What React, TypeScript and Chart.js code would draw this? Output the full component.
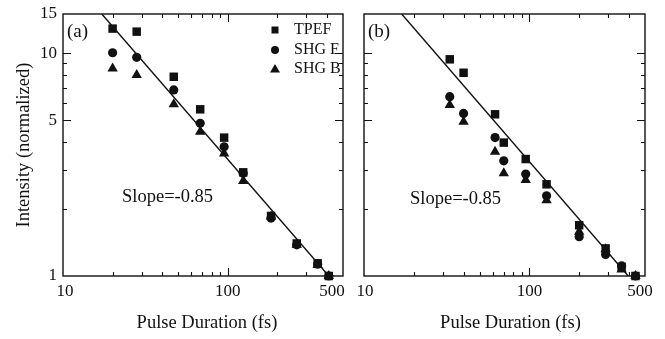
import React, { useEffect, useRef } from 'react';
import { Chart, registerables, LogarithmicScale } from 'chart.js';

Chart.register(...registerables);

const FONT = "'Liberation Serif', 'Times New Roman', serif";
const INK = '#111';

// ---------- data: panel (a) ----------
const durationsA = [20, 28, 47, 68, 95, 124, 183, 262, 351, 410];
const tpefA = [12.9, 12.5, 7.84, 5.6, 4.18, 2.92, 1.86, 1.4, 1.14, 1.0];
const shgFA = [10.05, 9.59, 6.84, 4.85, 3.8, 2.89, 1.82, 1.38, 1.13, 1.0];
const shgBA = [8.55, 7.98, 5.9, 4.44, 3.55, 2.67, 1.85, 1.38, 1.12, 1.0];
const fitXA = [17.2, 410];
const fitYA = [15, 1];

// ---------- data: panel (b) ----------
const durationsB = [33, 40, 62, 70, 95, 127, 200, 289, 361, 438];
const tpefB = [9.39, 8.17, 5.32, 3.97, 3.35, 2.58, 1.69, 1.33, 1.1, 1.0];
const shgFB = [6.38, 5.37, 4.18, 3.29, 2.87, 2.29, 1.5, 1.25, 1.11, 1.0];
const shgBB = [5.85, 4.93, 3.61, 2.89, 2.7, 2.19, 1.58, 1.32, 1.07, 1.0];
const fitXB = [16.9, 396];
const fitYB = [15, 1];

// ---------- axes ----------
const xTickLabels = [10, 100, 500];
const yTickLabels = [1, 5, 10, 15];
const xMajorTicks = [100];
const xMinorTicks = [20, 30, 40, 50, 60, 70, 80, 90, 200, 300, 400];
const yMajorTicks = [5, 10];
const yMinorTicks = [2, 3, 4, 6, 7, 8, 9];
const seriesNames = ['TPEF', 'SHG F', 'SHG B'];
const slopeText = 'Slope=-0.85';

// Log scale whose individual tick labels / title can be nudged sideways (as in the original figure).
class NudgedLogScale extends (LogarithmicScale as any) {
  static id = 'nudgedLog';
  static defaults = (LogarithmicScale as any).defaults;
  _computeLabelItems(chartArea: any) {
    const items = super._computeLabelItems(chartArea);
    const shifts: number[] = (this as any).$labelShifts || [];
    items.forEach((it: any, i: number) => {
      const dx = shifts[i] || 0;
      if (dx && it.options && it.options.translation) {
        it.options.translation = [it.options.translation[0] + dx, it.options.translation[1]];
      }
    });
    return items;
  }
  drawTitle() {
    const ctx = (this as any).ctx;
    const dx = (this as any).$titleShift || 0;
    ctx.save();
    ctx.translate(dx, 0);
    super.drawTitle();
    ctx.restore();
  }
}
Chart.register(NudgedLogScale as any);

const framePlugin = {
  id: 'frameTicks',
  beforeDatasetsDraw(chart: any) {
    const { ctx, chartArea: a, scales } = chart;
    const x = scales.x;
    const y = scales.y;
    ctx.save();
    ctx.strokeStyle = INK;
    ctx.lineWidth = 1.4;
    ctx.strokeRect(a.left, a.top, a.right - a.left, a.bottom - a.top);
    ctx.lineWidth = 1.1;
    ctx.beginPath();
    const xt = (v: number, len: number) => {
      const px = Math.round(x.getPixelForValue(v)) + 0.5;
      ctx.moveTo(px, a.bottom);
      ctx.lineTo(px, a.bottom - len);
      ctx.moveTo(px, a.top);
      ctx.lineTo(px, a.top + len);
    };
    const yt = (v: number, len: number) => {
      const py = Math.round(y.getPixelForValue(v)) + 0.5;
      ctx.moveTo(a.left, py);
      ctx.lineTo(a.left + len, py);
      ctx.moveTo(a.right, py);
      ctx.lineTo(a.right - len, py);
    };
    xMajorTicks.forEach((v) => xt(v, 8));
    xMinorTicks.forEach((v) => xt(v, 4));
    yMajorTicks.forEach((v) => yt(v, 8));
    yMinorTicks.forEach((v) => yt(v, 4));
    ctx.stroke();
    ctx.restore();
  },
};

const decorPlugin = {
  id: 'decor',
  afterDraw(chart: any, _args: any, opts: any) {
    const { ctx, chartArea: a } = chart;
    ctx.save();
    ctx.fillStyle = INK;
    ctx.textBaseline = 'middle';
    ctx.textAlign = 'left';
    ctx.font = `19px ${FONT}`;
    ctx.fillText(opts.panel, a.left + 4, 32);
    ctx.font = `18.5px ${FONT}`;
    ctx.fillText(slopeText, a.left + opts.slopeDx, opts.slopeY);
    if (opts.legend) {
      const mx = a.right - 68;
      const tx = a.right - 49;
      const rows = [30, 50, 69];
      ctx.font = `16px ${FONT}`;
      rows.forEach((ry, i) => {
        ctx.beginPath();
        if (i === 0) {
          ctx.rect(mx - 3.5, ry - 3.5, 7, 7);
        } else if (i === 1) {
          ctx.arc(mx, ry, 4, 0, Math.PI * 2);
        } else {
          ctx.moveTo(mx, ry - 5);
          ctx.lineTo(mx + 5, ry + 3.5);
          ctx.lineTo(mx - 5, ry + 3.5);
          ctx.closePath();
        }
        ctx.fill();
        ctx.fillText(seriesNames[i], tx, ry);
      });
    }
    ctx.restore();
  },
};

function pts(xs: number[], ys: number[]) {
  return xs.map((x, i) => ({ x, y: ys[i] }));
}

function buildConfig(p: any) {
  const marker = (label: string, ys: number[], style: string, r: number, order: number) => ({
    label,
    data: pts(p.durations, ys),
    pointStyle: style,
    pointRadius: r,
    pointHoverRadius: r,
    pointBackgroundColor: INK,
    pointBorderColor: INK,
    pointBorderWidth: 0,
    showLine: false,
    clip: false,
    order,
  });
  return {
    type: 'scatter',
    data: {
      datasets: [
        {
          label: 'Fit',
          data: pts(p.fitX, p.fitY),
          showLine: true,
          pointRadius: 0,
          borderColor: INK,
          borderWidth: 1.4,
          order: 3,
        },
        marker(seriesNames[0], p.tpef, 'rect', 6, 2),
        marker(seriesNames[1], p.shgF, 'circle', 4.6, 1),
        marker(seriesNames[2], p.shgB, 'triangle', 6, 0),
      ],
    },
    options: {
      responsive: false,
      animation: false,
      events: [],
      layout: { padding: p.padding },
      plugins: {
        legend: { display: false },
        tooltip: { enabled: false },
        decor: { panel: p.panel, slopeDx: p.slopeDx, slopeY: p.slopeY, legend: p.legend },
      },
      scales: {
        x: {
          type: 'nudgedLog',
          min: 10,
          max: 500,
          grid: { display: false, drawTicks: false },
          border: { display: false },
          afterBuildTicks: (s: any) => {
            s.ticks = xTickLabels.map((v) => ({ value: v }));
            s.$labelShifts = p.labelShifts;
            s.$titleShift = p.titleShift;
          },
          afterFit: (s: any) => {
            s.height = 63;
            s.paddingLeft = 0;
            s.paddingRight = 0;
          },
          ticks: {
            autoSkip: false,
            maxRotation: 0,
            padding: 5,
            color: INK,
            font: { family: FONT, size: 17 },
            callback: (v: any) => String(v),
          },
          title: {
            display: true,
            text: 'Pulse Duration (fs)',
            color: INK,
            font: { family: FONT, size: 18.5 },
            padding: { top: 0, bottom: 5 },
          },
        },
        y: {
          type: 'logarithmic',
          min: 1,
          max: 15,
          display: p.showY,
          grid: { display: false, drawTicks: false },
          border: { display: false },
          afterBuildTicks: (s: any) => {
            s.ticks = yTickLabels.map((v) => ({ value: v }));
          },
          afterFit: (s: any) => {
            if (p.showY) s.width = 63;
            s.paddingTop = 0;
            s.paddingBottom = 0;
          },
          ticks: {
            autoSkip: false,
            padding: 6,
            color: INK,
            font: { family: FONT, size: 17 },
            callback: (v: any) => String(v),
          },
          title: {
            display: true,
            text: 'Intensity (normalized)',
            color: INK,
            font: { family: FONT, size: 18.5 },
            padding: { top: 13, bottom: 0 },
          },
        },
      },
    },
    plugins: [framePlugin, decorPlugin],
  };
}

function Panel({ left, width, config }: { left: number; width: number; config: any }) {
  const ref = useRef<HTMLCanvasElement>(null);
  useEffect(() => {
    const chart = new Chart(ref.current as HTMLCanvasElement, config);
    return () => chart.destroy();
  }, []);
  return (
    <canvas
      ref={ref}
      width={width}
      height={339}
      style={{ position: 'absolute', left, top: 0, width, height: 339 }}
    />
  );
}

const configA = buildConfig({
  durations: durationsA,
  tpef: tpefA,
  shgF: shgFA,
  shgB: shgBA,
  fitX: fitXA,
  fitY: fitYA,
  panel: '(a)',
  slopeDx: 59,
  slopeY: 197,
  legend: true,
  showY: true,
  labelShifts: [2, 0, -11],
  titleShift: 4,
  padding: { top: 14, right: 19, left: 0, bottom: 0 },
});

const configB = buildConfig({
  durations: durationsB,
  tpef: tpefB,
  shgF: shgFB,
  shgB: shgBB,
  fitX: fitXB,
  fitY: fitYB,
  panel: '(b)',
  slopeDx: 46,
  slopeY: 199,
  legend: false,
  showY: false,
  labelShifts: [1, 0, -5],
  titleShift: 6,
  padding: { top: 14, right: 20, left: 14, bottom: 0 },
});

export default function App() {
  return (
    <div
      style={{
        position: 'fixed',
        left: 0,
        top: 0,
        width: 665,
        height: 339,
        background: '#fff',
        overflow: 'hidden',
      }}
    >
      <Panel left={0} width={362} config={configA} />
      <Panel left={350} width={315} config={configB} />
    </div>
  );
}
